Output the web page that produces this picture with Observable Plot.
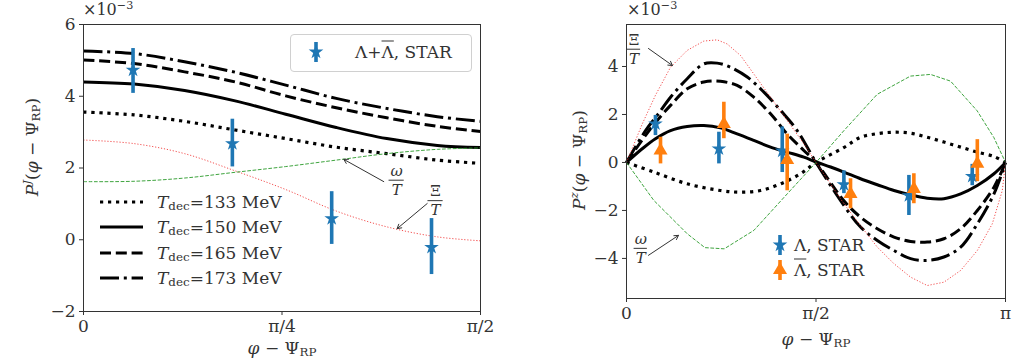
<!DOCTYPE html>
<html><head><meta charset="utf-8">
<script src="https://cdn.jsdelivr.net/npm/d3@7"></script>
<script src="https://cdn.jsdelivr.net/npm/@observablehq/plot@0.6"></script>
<style>
body{margin:0;background:#fff;font-family:"DejaVu Serif",serif;color:#333}
#wrap{position:relative;width:1025px;height:364px;overflow:hidden;background:#fff}
.panel{position:absolute;top:0}
.t{position:absolute;white-space:nowrap;font-size:17px;line-height:1;color:#333}
.t sub{font-size:0.7em;vertical-align:-0.25em;line-height:0}
.t sup{font-size:0.7em;vertical-align:0.55em;line-height:0}
.bar{text-decoration:overline}
.box{position:absolute;border:1px solid #d0d0d0;border-radius:4px;background:rgba(255,255,255,0.85)}
</style></head><body>
<div id="wrap">
  <div id="left" class="panel" style="left:0"></div>
  <div id="right" class="panel" style="left:512px"></div>
</div>
<script>
// ---------------- data ----------------
const blue = "#1f77b4", orange = "#ff7f0e";

// left panel: P^J vs phi - Psi_RP (units of 1e-3)
const leftX      = [0, 0.2, 0.4, 0.6, 0.8, 1.0, 1.2, 1.4, 1.5708];
const leftT133   = [3.56, 3.48, 3.30, 3.06, 2.82, 2.58, 2.40, 2.22, 2.13];
const leftT150   = [4.40, 4.34, 4.16, 3.87, 3.50, 3.13, 2.82, 2.63, 2.57];
const leftT165   = [5.01, 4.91, 4.68, 4.40, 4.01, 3.68, 3.40, 3.16, 3.02];
const leftT173   = [5.26, 5.19, 4.96, 4.67, 4.31, 3.94, 3.66, 3.43, 3.30];
const leftXi     = [2.78, 2.68, 2.40, 1.92, 1.40, 0.80, 0.36, 0.08, -0.03];
const leftOmega  = [1.62, 1.63, 1.72, 1.88, 2.04, 2.22, 2.40, 2.52, 2.56];

const leftPtX  = [0.196, 0.589, 0.982, 1.377];
const leftPtY  = [4.73, 2.68, 0.59, -0.21];
const leftPtLo = [4.08, 2.03, -0.13, -0.97];
const leftPtHi = [5.33, 3.36, 1.34, 0.59];

const leftXTicks = [0, Math.PI / 4, Math.PI / 2];
const leftXTickLabels = ["0", "π/4", "π/2"];
const leftYTicks = [-2, 0, 2, 4, 6];

// right panel: P^z vs phi - Psi_RP (units of 1e-3)
const rT173X = [0, 0.158, 0.254, 0.365, 0.503, 0.641, 0.752, 0.862, 1.001, 1.139, 1.277, 1.415, 1.571, 1.802, 1.940, 2.079, 2.217, 2.355, 2.493, 2.631, 2.770, 2.908, 3.046, 3.142];
const rT173Y = [0, 1.33, 1.96, 2.72, 3.49, 4.11, 4.14, 3.97, 3.56, 2.93, 2.17, 1.33, 0, -1.79, -2.69, -3.25, -3.67, -4.01, -4.08, -3.94, -3.53, -2.56, -1.31, 0];
const rT165X = [0, 0.158, 0.254, 0.365, 0.503, 0.641, 0.779, 0.917, 1.055, 1.194, 1.332, 1.470, 1.571, 1.802, 1.940, 2.079, 2.217, 2.355, 2.493, 2.631, 2.770, 2.908, 3.046, 3.142];
const rT165Y = [0, 1.13, 1.75, 2.38, 3.07, 3.35, 3.38, 3.21, 2.72, 2.03, 1.19, 0.50, 0, -1.60, -2.28, -2.76, -3.11, -3.29, -3.32, -3.18, -2.76, -2.00, -1.03, 0];
const rT150X = [0, 0.130, 0.240, 0.365, 0.503, 0.641, 0.779, 0.917, 1.055, 1.194, 1.332, 1.470, 1.571, 1.692, 1.802, 1.940, 2.079, 2.217, 2.355, 2.493, 2.631, 2.770, 2.908, 3.046, 3.142];
const rT150Y = [0, 0.57, 0.99, 1.33, 1.50, 1.54, 1.44, 1.19, 0.92, 0.64, 0.43, 0.22, 0.02, -0.19, -0.40, -0.68, -0.93, -1.17, -1.35, -1.49, -1.51, -1.31, -0.96, -0.47, 0];
const rT133X = [0, 0.226, 0.503, 0.779, 0.945, 1.111, 1.277, 1.443, 1.571, 1.801, 1.940, 2.079, 2.217, 2.355, 2.493, 2.631, 2.770, 2.908, 3.046, 3.142];
const rT133Y = [0, -0.40, -0.89, -1.17, -1.24, -1.17, -0.89, -0.47, 0, 0.62, 1.05, 1.20, 1.26, 1.22, 1.05, 0.85, 0.64, 0.43, 0.25, 0];
const rXiX = [0, 0.130, 0.240, 0.365, 0.503, 0.641, 0.752, 0.834, 0.945, 1.055, 1.194, 1.332, 1.470, 1.571, 1.802, 1.940, 2.079, 2.217, 2.355, 2.493, 2.631, 2.770, 2.908, 3.032, 3.115, 3.142];
const rXiY = [0, 1.60, 2.80, 3.97, 4.67, 5.06, 5.11, 4.94, 4.46, 3.69, 2.72, 1.75, 0.78, 0, -1.72, -2.63, -3.53, -4.22, -4.78, -5.13, -4.99, -4.50, -3.67, -2.56, -1.17, 0];
const rOmX = [0, 0.226, 0.503, 0.65, 0.81, 1.056, 1.332, 1.571, 1.801, 2.078, 2.354, 2.520, 2.686, 2.907, 3.045, 3.142];
const rOmY = [0, -1.58, -2.97, -3.55, -3.60, -2.83, -1.31, 0, 1.32, 2.84, 3.60, 3.67, 3.39, 2.15, 1.04, 0];

const lamX  = [0.240, 0.766, 1.291, 1.802, 2.341, 2.866];
const lamY  = [1.61, 0.57, 0.48, -0.92, -1.38, -0.58];
const lamLo = [1.12, -0.06, -0.42, -1.30, -2.21, -0.97];
const lamHi = [1.96, 1.26, 1.48, -0.35, -0.54, -0.08];
const alamX  = [0.282, 0.807, 1.332, 1.857, 2.382, 2.908];
const alamY  = [0.50, 1.60, 0.10, -1.31, -1.10, -0.05];
const alamLo = [-0.06, 0.99, -1.18, -1.93, -1.72, -0.80];
const alamHi = [1.05, 2.51, 1.18, -0.68, -0.47, 0.95];

const rightXTicks = [0, Math.PI / 2, Math.PI];
const rightXTickLabels = ["0", "π/2", "π"];
const rightYTicks = [-4, -2, 0, 2, 4];

// annotations (data coordinates)
const leftFracOmega = [{x: 1.239, y: 1.66}];
const leftFracXi    = [{x: 1.393, y: 1.09}];
const leftArrows = [{x1: 1.188, y1: 1.62, x2: 1.030, y2: 2.24}, {x1: 1.360, y1: 1.01, x2: 1.241, y2: 0.31}];
const rightFracXi    = [{x: 0.062, y: 4.72}];
const rightFracOmega = [{x: 0.118, y: -3.58}];
const rightArrows = [{x1: 0.182, y1: 4.75, x2: 0.381, y2: 4.04}, {x1: 0.182, y1: -3.87, x2: 0.431, y2: -3.04}];

const tempLabels = ["133", "150", "165", "173"];

// ---------------- helpers ----------------
const pts = (xs, ys) => xs.map((x, i) => ({x, y: ys[i]}));
const errs = (xs, ys, lo, hi) => xs.map((x, i) => ({x, y: ys[i], lo: lo[i], hi: hi[i]}));

const styles = {
  t133: {stroke: "#000", strokeWidth: 3.2, strokeDasharray: "3.2,4.8", strokeLinecap: "butt"},
  t150: {stroke: "#000", strokeWidth: 3, strokeLinecap: "butt"},
  t165: {stroke: "#000", strokeWidth: 3, strokeDasharray: "11,4.8", strokeLinecap: "butt"},
  t173: {stroke: "#000", strokeWidth: 3, strokeDasharray: "19,4.8,3,4.8", strokeLinecap: "butt"},
  xi:   {stroke: "#f03030", strokeWidth: 1, strokeDasharray: "1.2,1.8", strokeLinecap: "butt", strokeOpacity: 0.85},
  om:   {stroke: "#2a9a2a", strokeWidth: 1, strokeDasharray: "3.7,1.6", strokeLinecap: "butt", strokeOpacity: 0.9}
};

// fraction label: numerator over T with a short bar; hw = half bar width in x data units
function frac(lab, num, italic, hw) {
  return [
    Plot.text(lab, {x: "x", y: "y", text: () => num, dy: -9.5, fontSize: 15, fontStyle: italic ? "italic" : "normal", fill: "#333"}),
    Plot.text(lab, {x: "x", y: "y", text: () => "T", dy: 9.5, fontSize: 15, fontStyle: "italic", fill: "#333"}),
    Plot.ruleY(lab, {y: "y", x1: (d) => d.x - hw, x2: (d) => d.x + hw, stroke: "#333", strokeWidth: 1})
  ];
}
const arrowMark = (data) => Plot.arrow(data, {x1: "x1", y1: "y1", x2: "x2", y2: "y2", stroke: "#333", strokeWidth: 1, headLength: 7});

const plotStyle = {fontFamily: "DejaVu Serif, serif", fontSize: "17px", color: "#333", background: "transparent", overflow: "visible"};

// ---------------- left panel ----------------
const leftPts = errs(leftPtX, leftPtY, leftPtLo, leftPtHi);
const leftPlot = Plot.plot({
  width: 512, height: 364,
  marginLeft: 83, marginRight: 32, marginTop: 24, marginBottom: 53,
  x: {domain: [0, Math.PI / 2]},
  y: {domain: [-2, 6]},
  style: plotStyle,
  marks: [
    Plot.line(pts(leftX, leftT133), {x: "x", y: "y", curve: "catmull-rom", ...styles.t133}),
    Plot.line(pts(leftX, leftT150), {x: "x", y: "y", curve: "catmull-rom", ...styles.t150}),
    Plot.line(pts(leftX, leftT165), {x: "x", y: "y", curve: "catmull-rom", ...styles.t165}),
    Plot.line(pts(leftX, leftT173), {x: "x", y: "y", curve: "catmull-rom", ...styles.t173}),
    Plot.line(pts(leftX, leftXi), {x: "x", y: "y", curve: "catmull-rom", ...styles.xi}),
    Plot.line(pts(leftX, leftOmega), {x: "x", y: "y", curve: "catmull-rom", ...styles.om}),
    Plot.ruleX(leftPts, {x: "x", y1: "lo", y2: "hi", stroke: blue, strokeWidth: 3.6}),
    Plot.dot(leftPts, {x: "x", y: "y", symbol: "star", r: 4.6, fill: blue, stroke: null}),
    arrowMark(leftArrows),
    ...frac(leftFracOmega, "ω", true, 0.03),
    ...frac(leftFracXi, "Ξ", false, 0.03),
    Plot.axisX({ticks: leftXTicks, tickFormat: (d, i) => leftXTickLabels[i], tickSize: 4, tickPadding: 4, label: null, stroke: "#333"}),
    Plot.axisY({ticks: leftYTicks, tickSize: 4, tickPadding: 4, label: null, stroke: "#333"}),
    Plot.frame({stroke: "#333"})
  ]
});
document.getElementById("left").append(leftPlot);

// ---------------- right panel ----------------
const lamPts = errs(lamX, lamY, lamLo, lamHi);
const alamPts = errs(alamX, alamY, alamLo, alamHi);
const rightPlot = Plot.plot({
  width: 513, height: 364,
  marginLeft: 114, marginRight: 20, marginTop: 24, marginBottom: 66,
  x: {domain: [0, Math.PI]},
  y: {domain: [-5.67, 5.75]},
  style: plotStyle,
  marks: [
    Plot.line(pts(rT133X, rT133Y), {x: "x", y: "y", curve: "catmull-rom", ...styles.t133}),
    Plot.line(pts(rT150X, rT150Y), {x: "x", y: "y", curve: "catmull-rom", ...styles.t150}),
    Plot.line(pts(rT165X, rT165Y), {x: "x", y: "y", curve: "catmull-rom", ...styles.t165}),
    Plot.line(pts(rT173X, rT173Y), {x: "x", y: "y", curve: "catmull-rom", ...styles.t173}),
    Plot.line(pts(rXiX, rXiY), {x: "x", y: "y", ...styles.xi}),
    Plot.line(pts(rOmX, rOmY), {x: "x", y: "y", ...styles.om}),
    Plot.ruleX(lamPts, {x: "x", y1: "lo", y2: "hi", stroke: blue, strokeWidth: 3.6}),
    Plot.dot(lamPts, {x: "x", y: "y", symbol: "star", r: 4.6, fill: blue, stroke: null}),
    Plot.ruleX(alamPts, {x: "x", y1: "lo", y2: "hi", stroke: orange, strokeWidth: 3.6}),
    Plot.dot(alamPts, {x: "x", y: "y", symbol: "triangle", r: 5.2, fill: orange, stroke: null}),
    arrowMark(rightArrows),
    ...frac(rightFracXi, "Ξ", false, 0.055),
    ...frac(rightFracOmega, "ω", true, 0.055),
    Plot.axisX({ticks: rightXTicks, tickFormat: (d, i) => rightXTickLabels[i], tickSize: 4, tickPadding: 4, label: null, stroke: "#333"}),
    Plot.axisY({ticks: rightYTicks, tickSize: 4, tickPadding: 4, label: null, stroke: "#333"}),
    Plot.frame({stroke: "#333"})
  ]
});
document.getElementById("right").append(rightPlot);

// ---------------- overlays: labels & legends ----------------
const wrap = document.getElementById("wrap");
function add(html) { wrap.insertAdjacentHTML("beforeend", html); }

// exponent labels
add(`<div class="t" style="left:83px;top:2px;font-size:16px">×10<sup>−3</sup></div>`);
add(`<div class="t" style="left:627px;top:2px;font-size:16px">×10<sup>−3</sup></div>`);

// axis titles
const xTitle = `<i>φ</i>&nbsp;−&nbsp;Ψ<sub>RP</sub>`;
add(`<div class="t" style="left:282px;top:348px;transform:translate(-50%,-50%)">${xTitle}</div>`);
add(`<div class="t" style="left:816px;top:339px;transform:translate(-50%,-50%)">${xTitle}</div>`);
add(`<div class="t" style="left:32px;top:147px;transform:translate(-50%,-50%) rotate(-90deg)"><i>P</i><sup><i>J</i></sup>(<i>φ</i>&nbsp;−&nbsp;Ψ<sub>RP</sub>)</div>`);
add(`<div class="t" style="left:579px;top:160px;transform:translate(-50%,-50%) rotate(-90deg)"><i>P</i><sup><i>z</i></sup>(<i>φ</i>&nbsp;−&nbsp;Ψ<sub>RP</sub>)</div>`);

// marker helper
const starPath = d3.symbol(d3.symbolStar, Math.PI * 4.6 * 4.6)();
const triPath = d3.symbol(d3.symbolTriangle, Math.PI * 5.2 * 5.2)();
function markerSvg(cx, cy, color, path) {
  return `<svg style="position:absolute;left:${cx - 10}px;top:${cy - 12}px" width="20" height="24">
    <line x1="10" x2="10" y1="2" y2="22" stroke="${color}" stroke-width="3.6"/>
    <path d="${path}" transform="translate(10,12)" fill="${color}"/></svg>`;
}

// left STAR legend box
add(`<div class="box" style="left:290px;top:34px;width:180px;height:36px"></div>`);
add(markerSvg(316, 52, blue, starPath));
add(`<div class="t" style="left:355px;top:52px;transform:translateY(-50%)">Λ+<span class="bar">Λ</span>, STAR</div>`);

// left temperature legend
const legStyles = [styles.t133, styles.t150, styles.t165, styles.t173];
tempLabels.forEach((lab, i) => {
  const cy = 202 + i * 25.3;
  const s = legStyles[i];
  add(`<svg style="position:absolute;left:99px;top:${cy - 6}px" width="46" height="12">
    <line x1="1" x2="44" y1="6" y2="6" stroke="#000" stroke-width="${s.strokeWidth}" ${s.strokeDasharray ? `stroke-dasharray="${s.strokeDasharray}"` : ""}/></svg>`);
  add(`<div class="t" style="left:157px;top:${cy}px;transform:translateY(-50%)"><i>T</i><sub>dec</sub>=${lab} MeV</div>`);
});

// right legend
add(markerSvg(780, 245, blue, starPath));
add(`<div class="t" style="left:794px;top:245px;transform:translateY(-50%)">Λ, STAR</div>`);
add(markerSvg(780, 270, orange, triPath));
add(`<div class="t" style="left:794px;top:270px;transform:translateY(-50%)"><span class="bar">Λ</span>, STAR</div>`);
</script>
</body></html>
